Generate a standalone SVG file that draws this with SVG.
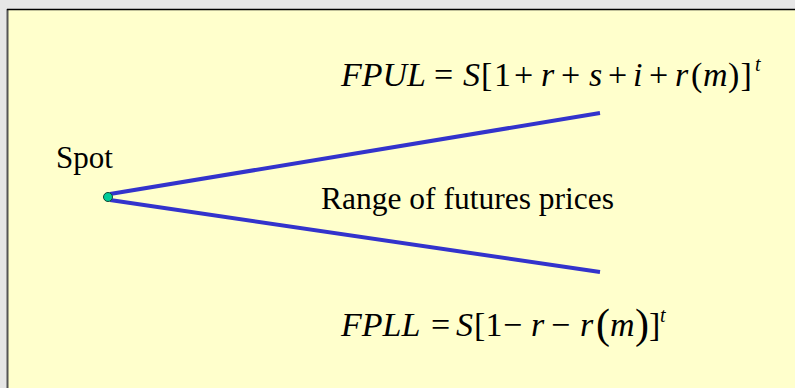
<svg xmlns="http://www.w3.org/2000/svg" width="795" height="388" viewBox="0 0 795 388">
<style>
.t{font-family:"Liberation Serif","Times New Roman",serif;fill:#000}
.i{font-style:italic}
.wire{stroke:#3333cc;stroke-width:4;fill:none;stroke-linecap:butt}
</style>
<rect x="0" y="0" width="795" height="388" fill="#e6e6e6"/>
<rect x="8" y="9" width="787" height="379" fill="#ffffcc"/>
<line x1="7.5" y1="9" x2="7.5" y2="388" stroke="#555" stroke-width="2"/>
<line x1="7" y1="9.5" x2="795" y2="9.5" stroke="#000" stroke-width="1.5"/>
<g id="connectors">
<line class="wire" x1="110" y1="194" x2="600" y2="113"/>
<line class="wire" x1="110" y1="200" x2="600" y2="272"/>
</g>
<g id="spot">
<circle cx="108" cy="197" r="4.5" fill="#00cc99" stroke="#114433" stroke-width="1"/>
<text class="t" x="56" y="168" font-size="31">Spot</text>
</g>
<g id="range">
<text class="t" x="321" y="209" font-size="31.5">Range of futures prices</text>
</g>
<g id="fpul">
<text class="t" y="86" font-size="34"><tspan class="i" x="341">FPUL</tspan><tspan x="434">=</tspan><tspan class="i" x="463">S</tspan><tspan x="481">[</tspan><tspan x="494">1</tspan><tspan x="514">+</tspan><tspan class="i" x="541">r</tspan><tspan x="561">+</tspan><tspan class="i" x="589">s</tspan><tspan x="608">+</tspan><tspan class="i" x="633">i</tspan><tspan x="649">+</tspan><tspan class="i" x="675">r</tspan><tspan x="691">(</tspan><tspan class="i" x="703">m</tspan><tspan x="728">)</tspan><tspan x="740.5">]</tspan></text>
<text class="t i" x="755" y="71" font-size="20">t</text>
</g>
<g id="fpll">
<text class="t" y="336" font-size="34"><tspan class="i" x="341">FPLL</tspan><tspan x="431">=</tspan><tspan class="i" x="456">S</tspan><tspan x="474">[</tspan><tspan x="485.5">1</tspan><tspan x="503">−</tspan><tspan class="i" x="531">r</tspan><tspan x="551">−</tspan><tspan class="i" x="580">r</tspan></text>
<text class="t" x="596" y="338" font-size="42">(</text>
<text class="t i" x="610" y="336" font-size="34">m</text>
<text class="t" x="635" y="338" font-size="42">)</text>
<text class="t" x="649" y="336" font-size="34">]</text>
<text class="t i" x="660" y="322" font-size="20">t</text>
</g>
</svg>
